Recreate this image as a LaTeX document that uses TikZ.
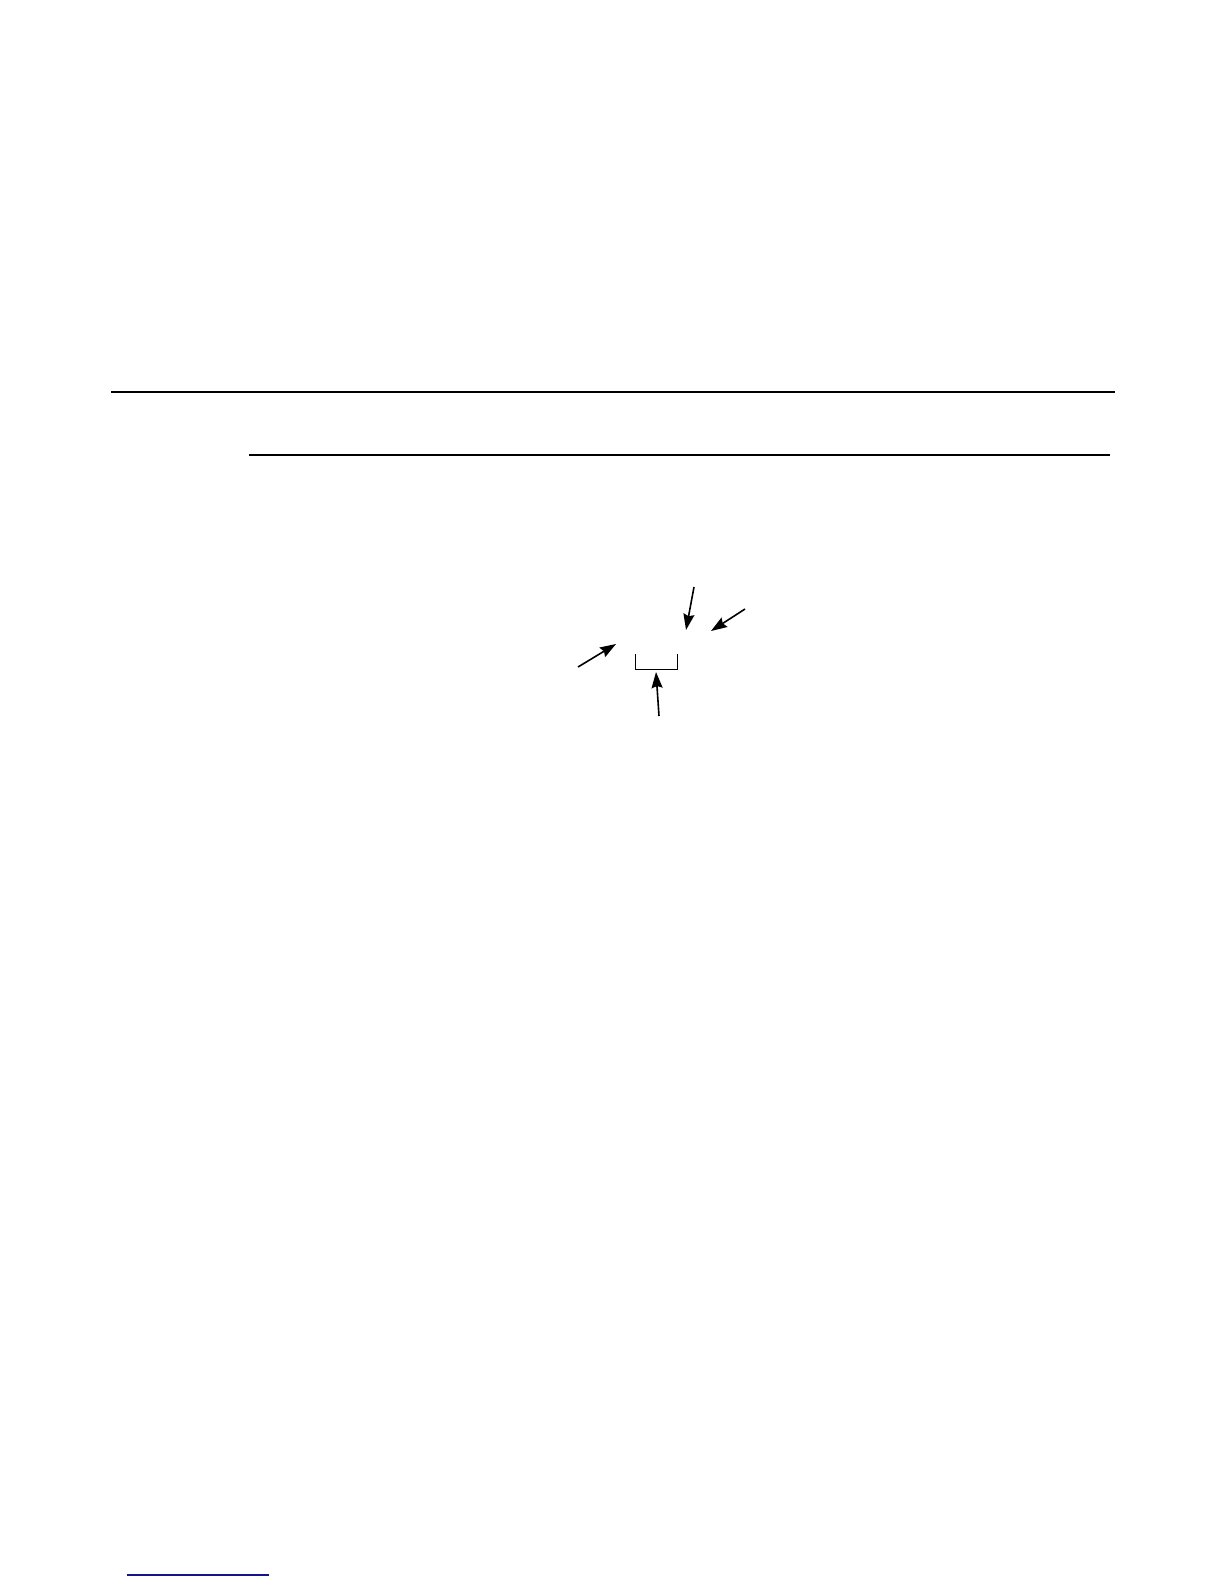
\documentclass[tikz,border=0pt]{standalone}
\usepackage{xcolor}
\usepackage{tikz}
\usetikzlibrary{calc}
\usetikzlibrary{arrows.meta}
\definecolor{footblue}{RGB}{20,20,140}

\begin{document}
\begin{tikzpicture}[x=0.5pt, y=-0.5pt,
    pointer/.style={line width=0.8pt, -{Stealth[length=8pt, width=5.5pt, inset=1pt]}}]
        %PAGE
       \useasboundingbox (0,0) rectangle (1224,1584);
        %RULE LINES
       \draw[line width=0.8pt] (111,392) -- (1115,392);
       \draw[line width=0.8pt] (249,455) -- (1110,455);
        %BRACKET
       \draw[line width=0.5pt] (635,654) -- (635,669) -- (677,669) -- (677,654);
        %POINT COORDINATES
       \coordinate (topstart) at (694,587);
       \coordinate (toptip) at (686,630);
       \coordinate (rightstart) at (745,609);
       \coordinate (righttip) at (711,631);
       \coordinate (leftstart) at (578,667);
       \coordinate (lefttip) at (616,644);
       \coordinate (bottomstart) at (659,716);
       \coordinate (bottomtip) at (656,672);
        %ARROWS
       \draw[pointer] (topstart) -- (toptip);
       \draw[pointer] (rightstart) -- (righttip);
       \draw[pointer] (leftstart) -- (lefttip);
       \draw[pointer] (bottomstart) -- (bottomtip);
        %FOOTNOTE RULE
       \draw[footblue, line width=0.6pt] (127,1575) -- (269,1575);
    \end{tikzpicture}
\end{document}
